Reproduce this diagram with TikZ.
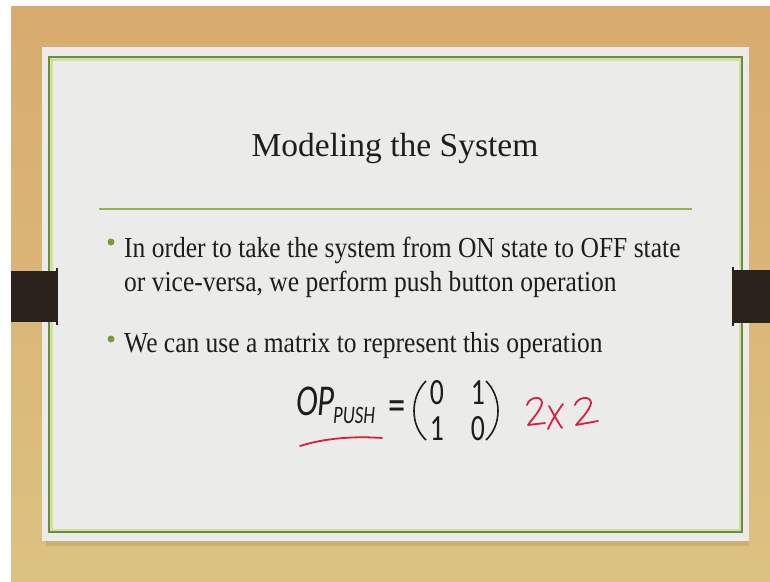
\documentclass[tikz,border=0pt]{standalone}
\usepackage{fontspec}
\setmainfont{Liberation Serif}
\newfontfamily\bodyfont[FakeStretch=0.88]{Liberation Serif}
\newfontfamily\formulafont[FakeStretch=0.75]{Carlito}
\usetikzlibrary{positioning}
\definecolor{ink}{HTML}{1E1D1B}
\definecolor{wood}{HTML}{D8AB6E}
\definecolor{woodlight}{HTML}{DCC282}
\definecolor{paper}{HTML}{EBEBEA}
\definecolor{frame}{HTML}{6F8C3C}
\definecolor{framelight}{HTML}{CFE0A0}
\definecolor{rule}{HTML}{93B356}
\definecolor{bullet}{HTML}{7A9B38}
\definecolor{clamp}{HTML}{2B221C}
\definecolor{pen}{HTML}{D6203F}
\tikzset{
  slidetitle/.style={
    font=\fontsize{33.5}{40}\selectfont,
    text=ink,
    inner sep=0pt,
    anchor=base
  },
  bodyline/.style={
    font=\bodyfont\fontsize{29}{34}\selectfont,
    text=ink,
    inner sep=0pt,
    anchor=base west
  },
  bulletdot/.style={
    circle,
    fill=bullet,
    minimum size=7pt,
    inner sep=0pt
  },
  formula/.style={
    font=\formulafont\fontsize{44}{48}\selectfont,
    text=ink,
    inner sep=0pt,
    anchor=base west
  },
  formulasub/.style={
    font=\formulafont\fontsize{25}{28}\selectfont\itshape,
    text=ink,
    inner sep=0pt,
    anchor=base west
  },
  entry/.style={
    font=\formulafont\fontsize{37}{40}\selectfont,
    text=ink,
    inner sep=0pt
  },
  paren/.style={
    draw=ink,
    line width=1.6pt
  },
  clampbar/.style={
    fill=clamp
  },
  ink stroke/.style={
    draw=pen,
    line width=1.8pt,
    line cap=round,
    line join=round
  }
}

\begin{document}
\begin{tikzpicture}[x=1pt, y=-1pt]
  \useasboundingbox (0,0) rectangle (770,581);
  % background
  \fill[white] (0,0) rectangle (770,581);
  \shade[top color=wood, bottom color=woodlight] (11,6) rectangle (770,581);
  % slide
  \fill[black, opacity=0.08] (46,541) rectangle (749,546);
  \fill[paper] (42,47) rectangle (749,541);
  \draw[framelight, line width=3pt] (51,59) rectangle (740,530);
  \draw[frame, line width=1.5pt] (49,57) rectangle (742,532);
  % clamps
  \fill[clampbar] (11,271) rectangle (57,322);
  \draw[clamp, line width=1.5pt] (57,268) -- (57,325);
  \fill[clampbar] (733,270) rectangle (770,323);
  \draw[clamp, line width=1.5pt] (733,267) -- (733,326);
  % title
  \node[slidetitle] (title) at (395,156) {Modeling the System};
  \draw[rule, line width=2pt] (99,209) -- (692,209);
  % bullets
  \node[bulletdot] (dot1) at (111,242) {};
  \node[bodyline] (line1) at (124,257) {In order to take the system from ON state to OFF state};
  \node[bodyline] (line2) at (124,291) {or vice-versa, we perform push button operation};
  \node[bulletdot] (dot2) at (111,339) {};
  \node[bodyline] (line3) at (124,352) {We can use a matrix to represent this operation};
  % formula
  \node[formula] (op) at (296,415) {\itshape OP};
  \node[formulasub] (push) at (333,423) {PUSH};
  \node[entry, font=\formulafont\fontsize{46}{48}\selectfont, anchor=base] (eq) at (397,420) {=};
  \draw[paren] (426,381) .. controls (410,397) and (410,425) .. (426,440);
  \node[entry] (a11) at (437,393) {0};
  \node[entry] (a12) at (478,393) {1};
  \node[entry] (a21) at (437,429) {1};
  \node[entry] (a22) at (478,429) {0};
  \draw[paren] (486,381) .. controls (502,397) and (502,425) .. (486,440);
  % handwriting
  \draw[ink stroke] (300,446) .. controls (325,438) and (355,436) .. (382,438);
  \draw[ink stroke] (527,405) .. controls (529,397) and (542,395) .. (542,403)
    .. controls (541,410) and (532,419) .. (528,425) -- (545,423);
  \draw[ink stroke] (549,406) .. controls (553,413) and (557,421) .. (562,428);
  \draw[ink stroke] (563,404) .. controls (557,412) and (552,420) .. (548,429);
  \draw[ink stroke] (575,405) .. controls (577,397) and (591,395) .. (591,403)
    .. controls (590,410) and (581,419) .. (576,425) -- (598,421);
\end{tikzpicture}
\end{document}
